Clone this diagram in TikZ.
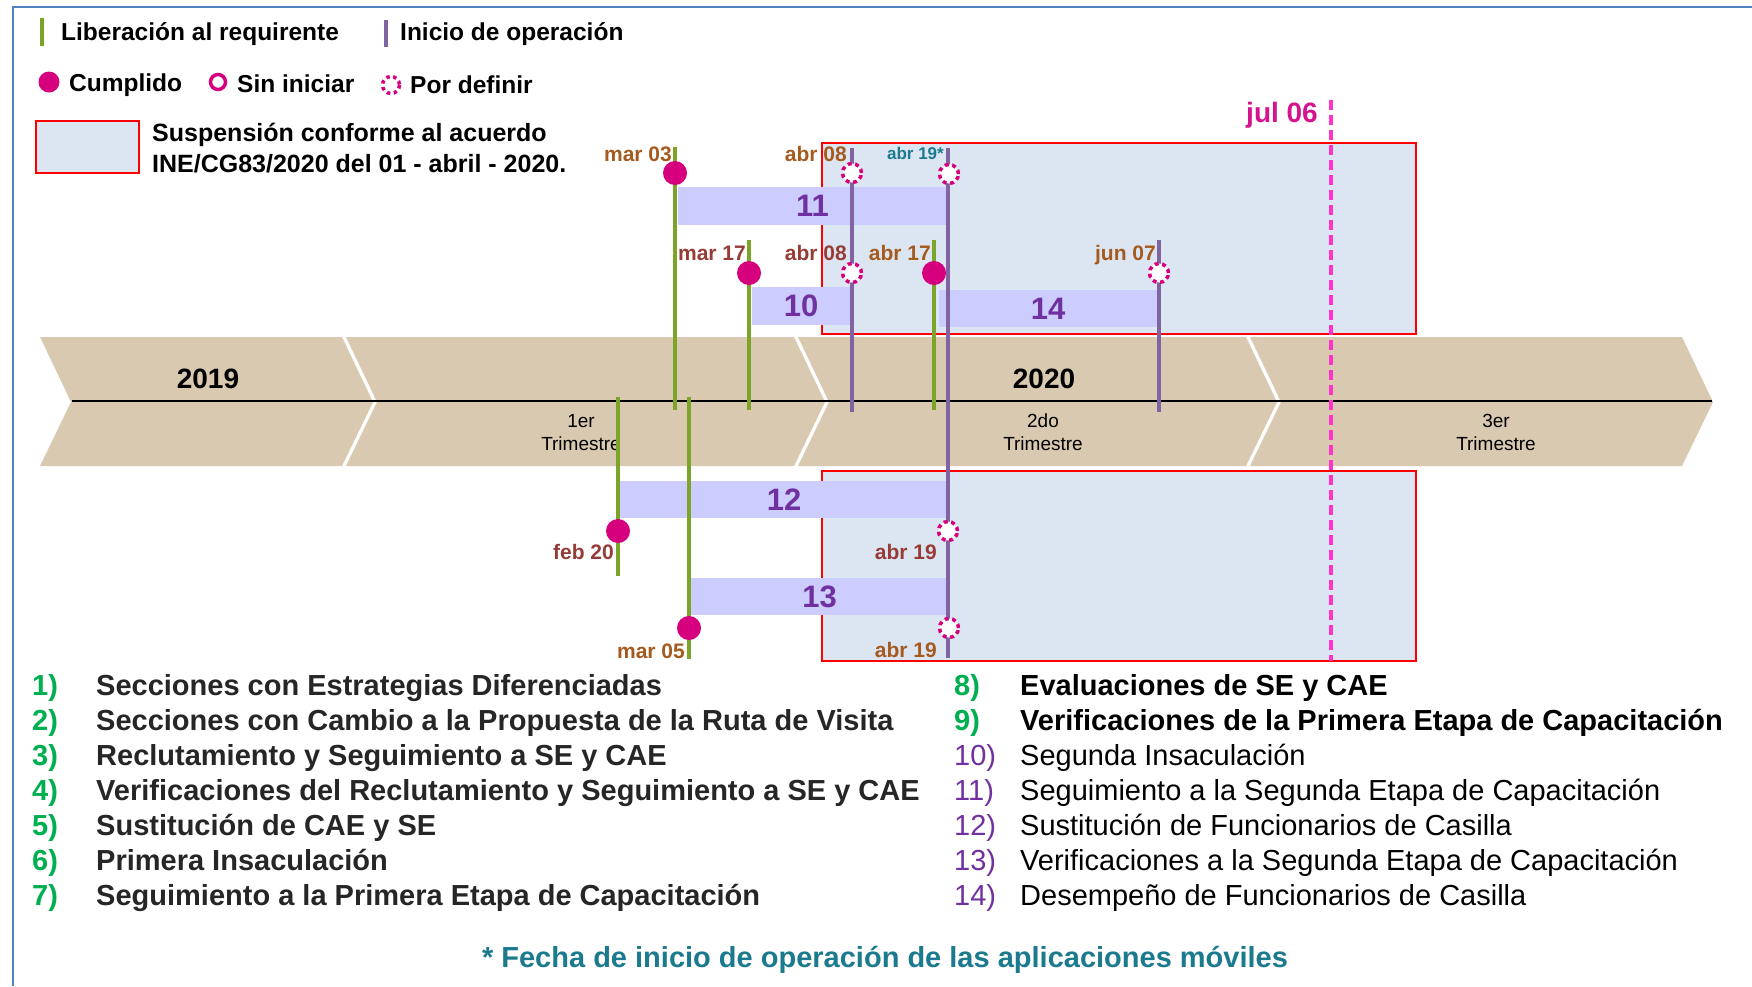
\documentclass[tikz,border=0pt]{standalone}
\usepackage{fontspec}
\setmainfont{Liberation Sans}
\definecolor{frameblue}{HTML}{4F81BD}
\definecolor{tanfill}{HTML}{D8C9B0}
\definecolor{gline}{HTML}{7BA428}
\definecolor{pline}{HTML}{8064A2}
\definecolor{mag}{HTML}{D6007F}
\definecolor{pinkd}{HTML}{FF33CC}
\definecolor{julc}{HTML}{D4138C}
\definecolor{boxfill}{HTML}{DCE6F2}
\definecolor{barfill}{HTML}{CCCCFF}
\definecolor{numpurple}{HTML}{7030A0}
\definecolor{brA}{HTML}{A55A1E}
\definecolor{brB}{HTML}{963C37}
\definecolor{tealc}{HTML}{1B7A8E}
\definecolor{listgreen}{HTML}{00B050}
\definecolor{darktext}{HTML}{262626}
\newcommand\myfs[1]{\fontsize{#1}{#1}\selectfont}
\begin{document}
\begin{tikzpicture}[x=1pt,y=-1pt,
  txt/.style={inner sep=0pt, anchor=base west},
  ctxt/.style={inner sep=0pt, anchor=base},
  datelbl/.style={inner sep=0pt, anchor=base east, font=\myfs{21}\bfseries},
  gl/.style={draw=gline, line width=4pt},
  pl/.style={draw=pline, line width=4pt},
  done/.style={circle, fill=mag, minimum size=24pt, inner sep=0pt},
  tbd/.style={circle, fill=white, draw=mag, line width=3.5pt, dash pattern=on 4pt off 3.6pt, minimum size=19pt, inner sep=0pt},
  barbox/.style={fill=barfill, inner sep=0pt, text=numpurple, font=\myfs{31}\bfseries},
  susp/.style={fill=boxfill, draw=red, line width=2.5pt},
  lnum/.style={inner sep=0pt, anchor=base west, font=\myfs{29}\bfseries},
  litem/.style={inner sep=0pt, anchor=base west, font=\myfs{29}\bfseries, text=darktext},
  chev/.style={fill=tanfill}
]
\useasboundingbox (0,0) rectangle (1752,986);
\fill[white] (0,0) rectangle (1752,986);
% frame
\draw[frameblue, line width=2.5pt] (13,986) -- (13,7) -- (1752,7);

% legend
\draw[gl] (42,18) -- (42,46);
\node[txt, font=\myfs{24.5}\bfseries] (lg1) at (61,40) {Liberación al requirente};
\draw[pl] (386,20) -- (386,47);
\node[txt, font=\myfs{24.5}\bfseries] (lg2) at (400,40) {Inicio de operación};
\fill[mag] (49,82) circle (10.5);
\node[txt, font=\myfs{24.5}\bfseries] (lg3) at (69,91) {Cumplido};
\draw[mag, line width=3.5pt] (218,82) circle (7.5);
\node[txt, font=\myfs{24.5}\bfseries] (lg4) at (237,92) {Sin iniciar};
\draw[mag, line width=3.5pt, dash pattern=on 3.5pt off 3.5pt] (391,85) circle (8.5);
\node[txt, font=\myfs{24.5}\bfseries] (lg5) at (410,93) {Por definir};
\draw[susp] (36,121) rectangle (139,173);
\node[txt, font=\myfs{25}\bfseries] (lg6) at (152,141) {Suspensión conforme al acuerdo};
\node[txt, font=\myfs{25}\bfseries] (lg7) at (152,172) {INE/CG83/2020 del 01 - abril - 2020.};

% timeline chevrons
\fill[chev] (40,337) -- (342,337) -- (373,402) -- (342,466) -- (40,466) -- (71,402) -- cycle;
\fill[chev] (346,337) -- (794,337) -- (825,402) -- (794,466) -- (346,466) -- (377,402) -- cycle;
\fill[chev] (798,337) -- (1246,337) -- (1277,402) -- (1246,466) -- (798,466) -- (829,402) -- cycle;
\fill[chev] (1250,337) -- (1682,337) -- (1713,402) -- (1682,466) -- (1250,466) -- (1281,402) -- cycle;
\draw[black, line width=2.5pt] (72,401) -- (1712,401);
\node[ctxt, font=\myfs{28}\bfseries] (y19) at (208,388) {2019};
\node[ctxt, font=\myfs{28}\bfseries] (y20) at (1044,388) {2020};
\node[ctxt, font=\myfs{19}] (t1a) at (581,427) {1er};
\node[ctxt, font=\myfs{19}] (t1b) at (581,450) {Trimestre};
\node[ctxt, font=\myfs{19}] (t2a) at (1043,427) {2do};
\node[ctxt, font=\myfs{19}] (t2b) at (1043,450) {Trimestre};
\node[ctxt, font=\myfs{19}] (t3a) at (1496,427) {3er};
\node[ctxt, font=\myfs{19}] (t3b) at (1496,450) {Trimestre};

% suspension boxes
\draw[susp] (822,143) rectangle (1416,334);
\draw[susp] (822,471) rectangle (1416,661);

% bars
\node[barbox, minimum width=269pt, minimum height=38pt] (b11) at (812.5,206) {11};
\node[barbox, minimum width=98pt, minimum height=38pt] (b10) at (801,306) {10};
\node[barbox, minimum width=218pt, minimum height=37pt] (b14) at (1048,308.5) {14};
\node[barbox, minimum width=328pt, minimum height=37pt] (b12) at (784,499.5) {12};
\node[barbox, minimum width=257pt, minimum height=37pt] (b13) at (819.5,596.5) {13};

% line end points
\coordinate (g1t) at (675,147); \coordinate (g1b) at (675,410);
\coordinate (g2t) at (749,240); \coordinate (g2b) at (749,410);
\coordinate (g3t) at (934,240); \coordinate (g3b) at (934,410);
\coordinate (g4t) at (618,397); \coordinate (g4b) at (618,576);
\coordinate (g5t) at (689,397); \coordinate (g5b) at (689,659);
\coordinate (p1t) at (852,148); \coordinate (p1b) at (852,412);
\coordinate (p2t) at (948,148); \coordinate (p2b) at (948,658);
\coordinate (p3t) at (1159,240); \coordinate (p3b) at (1159,412);
\draw[gl] (g1t) -- (g1b);
\draw[gl] (g2t) -- (g2b);
\draw[gl] (g3t) -- (g3b);
\draw[gl] (g4t) -- (g4b);
\draw[gl] (g5t) -- (g5b);
\draw[pl] (p1t) -- (p1b);
\draw[pl] (p2t) -- (p2b);
\draw[pl] (p3t) -- (p3b);

% jul 06
\coordinate (jt) at (1331,100); \coordinate (jb) at (1331,661);
\draw[pinkd, line width=3.5pt, dash pattern=on 10pt off 5pt] (jt) -- (jb);
\node[inner sep=0pt, anchor=base east, font=\myfs{28}\bfseries, text=julc] (jul) at (1318,122) {jul 06};

% markers
\node[done] (c1) at (675,173) {};
\node[done] (c2) at (749,273) {};
\node[done] (c3) at (934,273) {};
\node[done] (c4) at (618,531) {};
\node[done] (c5) at (689,628) {};
\node[tbd] (d1) at (852,173) {};
\node[tbd] (d2) at (949,174) {};
\node[tbd] (d3) at (852,273) {};
\node[tbd] (d4) at (1159,273) {};
\node[tbd] (d5) at (948,531) {};
\node[tbd] (d6) at (949,628) {};

% date labels
\node[datelbl, text=brA] (l1) at (672,161) {mar 03};
\node[datelbl, text=brA] (l2) at (847,161) {abr 08};
\node[datelbl, text=tealc, font=\myfs{17}\bfseries] (l3) at (944,159) {abr 19*};
\node[datelbl, text=brB] (l4) at (746,260) {mar 17};
\node[datelbl, text=brB] (l5) at (847,260) {abr 08};
\node[datelbl, text=brA] (l6) at (931,260) {abr 17};
\node[datelbl, text=brA] (l7) at (1156,260) {jun 07};
\node[datelbl, text=brB] (l8) at (614,559) {feb 20};
\node[datelbl, text=brB] (l9) at (937,559) {abr 19};
\node[datelbl, text=brA] (l10) at (685,658) {mar 05};
\node[datelbl, text=brA] (l11) at (937,657) {abr 19};

% list left
\node[lnum, text=listgreen] (n1) at (32,695) {1)};
\node[litem] (i1) at (96,695) {Secciones con Estrategias Diferenciadas};
\node[lnum, text=listgreen] (n2) at (32,730) {2)};
\node[litem] (i2) at (96,730) {Secciones con Cambio a la Propuesta de la Ruta de Visita};
\node[lnum, text=listgreen] (n3) at (32,765) {3)};
\node[litem] (i3) at (96,765) {Reclutamiento y Seguimiento a SE y CAE};
\node[lnum, text=listgreen] (n4) at (32,800) {4)};
\node[litem] (i4) at (96,800) {Verificaciones del Reclutamiento y Seguimiento a SE y CAE};
\node[lnum, text=listgreen] (n5) at (32,835) {5)};
\node[litem] (i5) at (96,835) {Sustitución de CAE y SE};
\node[lnum, text=listgreen] (n6) at (32,870) {6)};
\node[litem] (i6) at (96,870) {Primera Insaculación};
\node[lnum, text=listgreen] (n7) at (32,905) {7)};
\node[litem] (i7) at (96,905) {Seguimiento a la Primera Etapa de Capacitación};

% list right
\node[lnum, text=listgreen] (n8) at (954,695) {8)};
\node[litem, text=black] (i8) at (1020,695) {Evaluaciones de SE y CAE};
\node[lnum, text=listgreen] (n9) at (954,730) {9)};
\node[litem, text=black] (i9) at (1020,730) {Verificaciones de la Primera Etapa de Capacitación};
\node[lnum, text=numpurple, font=\myfs{29}] (n10) at (954,765) {10)};
\node[litem, text=black, font=\myfs{29}] (i10) at (1020,765) {Segunda Insaculación};
\node[lnum, text=numpurple, font=\myfs{29}] (n11) at (954,800) {11)};
\node[litem, text=black, font=\myfs{29}] (i11) at (1020,800) {Seguimiento a la Segunda Etapa de Capacitación};
\node[lnum, text=numpurple, font=\myfs{29}] (n12) at (954,835) {12)};
\node[litem, text=black, font=\myfs{29}] (i12) at (1020,835) {Sustitución de Funcionarios de Casilla};
\node[lnum, text=numpurple, font=\myfs{29}] (n13) at (954,870) {13)};
\node[litem, text=black, font=\myfs{29}] (i13) at (1020,870) {Verificaciones a la Segunda Etapa de Capacitación};
\node[lnum, text=numpurple, font=\myfs{29}] (n14) at (954,905) {14)};
\node[litem, text=black, font=\myfs{29}] (i14) at (1020,905) {Desempeño de Funcionarios de Casilla};

% footer
\node[ctxt, font=\myfs{29}\bfseries, text=tealc] (foot) at (885,967) {* Fecha de inicio de operación de las aplicaciones móviles};
\end{tikzpicture}
\end{document}
